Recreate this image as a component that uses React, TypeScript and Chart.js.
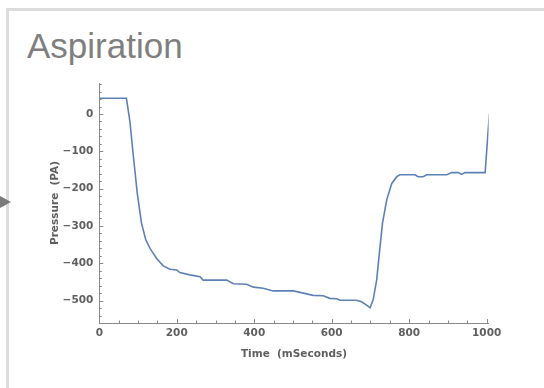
import React, { useEffect, useRef } from "react";
import { Chart, registerables } from "chart.js";

Chart.register(...registerables);

const titleText = "Aspiration";
const xAxisTitle = "Time  (mSeconds)";
const yAxisTitle = "Pressure  (PA)";

const timeMs = [
  0, 70, 79, 88, 98, 109, 120, 131, 148, 165, 182, 200, 208, 234, 260, 268, 329,
  346, 380, 398, 423, 449, 501, 527, 552, 578, 595, 613, 621, 664, 677, 690, 699,
  707, 716, 723, 731, 742, 755, 768, 776, 815, 823, 836, 845, 897, 910, 927, 935,
  944, 996, 1007,
];
const pressurePa = [
  42, 42, -20, -114, -212, -293, -337, -360, -387, -407, -416, -418, -425, -431,
  -436, -445, -445, -455, -456, -464, -467, -474, -474, -480, -486, -487, -494,
  -495, -499, -499, -503, -512, -519, -498, -445, -373, -293, -230, -186, -168,
  -163, -163, -168, -168, -163, -163, -157, -157, -162, -157, -157, 0,
];

const xTickValues = [0, 200, 400, 600, 800, 1000];
const yTickValues = [-500, -400, -300, -200, -100, 0];
const xMinorStep = 50;
const yMinorStep = 20;
const xMajorStep = 200;
const yMajorStep = 100;

const X_MIN = 0;
const X_MAX = 1005;
const Y_MIN = -560;
const Y_MAX = 83;

const fmt = (v: number) => (v < 0 ? "\u2212" + Math.abs(v) : String(v));

const innerTicks = {
  id: "innerTicks",
  afterDraw(chart: any) {
    const { ctx, chartArea } = chart;
    const xs = chart.scales.x;
    const ys = chart.scales.y;
    ctx.save();
    ctx.strokeStyle = "#8a8a8a";
    ctx.lineWidth = 1;
    ctx.beginPath();
    for (let v = X_MIN; v <= X_MAX + 0.001; v += xMinorStep) {
      const px = Math.round(xs.getPixelForValue(v)) + 0.5;
      const len = v % xMajorStep === 0 ? 4 : 2.5;
      ctx.moveTo(px, chartArea.bottom);
      ctx.lineTo(px, chartArea.bottom - len);
    }
    const yStart = Math.ceil(Y_MIN / yMinorStep) * yMinorStep;
    for (let v = yStart; v <= Y_MAX; v += yMinorStep) {
      const py = Math.round(ys.getPixelForValue(v)) + 0.5;
      const len = v % yMajorStep === 0 ? 4 : 2.5;
      ctx.moveTo(chartArea.left, py);
      ctx.lineTo(chartArea.left + len, py);
    }
    ctx.stroke();
    ctx.restore();
  },
};

export default function App() {
  const canvasRef = useRef<HTMLCanvasElement | null>(null);

  useEffect(() => {
    if (!canvasRef.current) return;
    const tickFont = { family: "'DejaVu Sans', sans-serif", size: 10.5, weight: "bold" as const };
    const chart = new Chart(canvasRef.current, {
      type: "line",
      data: {
        datasets: [
          {
            data: timeMs.map((t, i) => ({ x: t, y: pressurePa[i] })),
            borderColor: "#5e81b5",
            borderWidth: 1.6,
            pointRadius: 0,
            fill: false,
            tension: 0,
          },
        ],
      },
      options: {
        responsive: false,
        animation: false,
        devicePixelRatio: 1,
        layout: { padding: { left: 0, top: 83, right: 55.4, bottom: 20 } },
        plugins: {
          legend: { display: false },
          tooltip: { enabled: false },
          title: { display: false },
        },
        scales: {
          x: {
            type: "linear",
            min: X_MIN,
            max: X_MAX,
            grid: { display: false, drawTicks: false },
            border: { display: true, color: "#8a8a8a", width: 1 },
            afterBuildTicks: (s: any) => {
              s.ticks = xTickValues.map((v) => ({ value: v }));
            },
            afterFit: (s: any) => {
              s.height = 45;
              s.paddingLeft = 0;
              s.paddingRight = 0;
              s.paddingTop = 0;
              s.paddingBottom = 0;
            },
            ticks: {
              padding: 4,
              color: "#5f5f5f",
              font: tickFont,
              maxRotation: 0,
              autoSkip: false,
              callback: (v: any) => fmt(Number(v)),
            },
            title: {
              display: true,
              text: xAxisTitle,
              color: "#5f5f5f",
              font: tickFont,
              padding: { top: 0, bottom: 7 },
            },
          },
          y: {
            type: "linear",
            min: Y_MIN,
            max: Y_MAX,
            grid: { display: false, drawTicks: false },
            border: { display: true, color: "#8a8a8a", width: 1 },
            afterBuildTicks: (s: any) => {
              s.ticks = yTickValues.map((v) => ({ value: v }));
            },
            afterFit: (s: any) => {
              s.width = 99.3;
              s.paddingLeft = 0;
              s.paddingRight = 0;
              s.paddingTop = 0;
              s.paddingBottom = 0;
            },
            ticks: {
              padding: 6,
              color: "#5f5f5f",
              font: tickFont,
              autoSkip: false,
              callback: (v: any) => fmt(Number(v)),
            },
            title: {
              display: true,
              text: yAxisTitle,
              color: "#5f5f5f",
              font: tickFont,
              padding: { top: 48.7, bottom: 0 },
            },
          },
        },
      },
      plugins: [innerTicks],
    });
    return () => chart.destroy();
  }, []);

  return (
    <div
      style={{
        position: "fixed",
        left: 0,
        top: 0,
        width: 544,
        height: 388,
        overflow: "hidden",
        background: "#ffffff",
      }}
    >
      <div
        style={{
          position: "absolute",
          left: 6,
          top: 8,
          width: 600,
          height: 450,
          border: "3px solid #dcdcdc",
          boxSizing: "border-box",
        }}
      />
      <div
        style={{
          position: "absolute",
          left: 0,
          top: 196,
          width: 0,
          height: 0,
          borderLeft: "11px solid #7a7a7a",
          borderTop: "6px solid transparent",
          borderBottom: "6px solid transparent",
        }}
      />
      <div
        style={{
          position: "absolute",
          left: 27,
          top: 28,
          fontFamily: "'Liberation Sans', Arial, sans-serif",
          fontSize: 35,
          lineHeight: "35px",
          color: "#7f7f7f",
          whiteSpace: "nowrap",
        }}
      >
        {titleText}
      </div>
      <canvas
        ref={canvasRef}
        width={544}
        height={388}
        style={{ position: "absolute", left: 0, top: 0, width: 544, height: 388 }}
      />
    </div>
  );
}
